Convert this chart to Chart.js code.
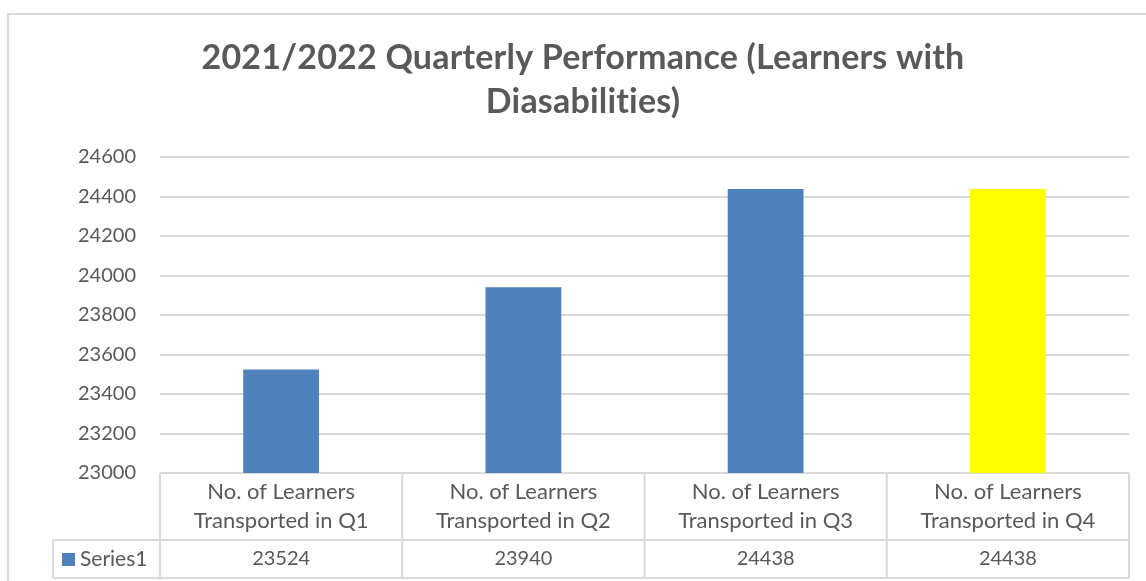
<!DOCTYPE html>
<html>
<head>
<meta charset="utf-8">
<script src="https://cdn.jsdelivr.net/npm/chart.js@4.4.1/dist/chart.umd.min.js"></script>
<style>
  html, body { margin: 0; padding: 0; background: #fff; }
  #wrap { position: relative; width: 1146px; height: 581px; }
</style>
</head>
<body>
<div id="wrap"><canvas id="chart" width="1146" height="581"></canvas></div>
<script>
// Excel-style column chart with a data table underneath
const titleLines = ["2021/2022 Quarterly Performance (Learners with", "Diasabilities)"]
const quarters = [
  ["No. of Learners", "Transported in Q1"],
  ["No. of Learners", "Transported in Q2"],
  ["No. of Learners", "Transported in Q3"],
  ["No. of Learners", "Transported in Q4"]
]
const seriesName = "Series1"
const learners = [23524, 23940, 24438, 24438]
const yMin = 23000
const yMax = 24600
const yStep = 200

const BLUE = "#4F81BD"
const barColors = [BLUE, BLUE, BLUE, "#FFFF00"]
const TEXT = "#595959"
const LINE = "#d9d9d9"
const FONT = "Lato, 'Open Sans', sans-serif"

// title, outer frame and the data table are drawn by hand
const tablePlugin = {
  id: "dataTable",
  beforeDraw(chart) {
    const ctx = chart.ctx
    ctx.save()
    ctx.strokeStyle = LINE
    ctx.lineWidth = 2
    ctx.beginPath()
    ctx.moveTo(8, 581)
    ctx.lineTo(8, 14)
    ctx.lineTo(1146, 14)
    ctx.stroke()

    ctx.fillStyle = TEXT
    ctx.font = "bold 34px " + FONT
    ctx.letterSpacing = "0.2px" // keeps Lato from joining "ti"
    ctx.textAlign = "center"
    ctx.textBaseline = "middle"
    titleLines.forEach((t, i) => ctx.fillText(t, 583, 58 + i * 44))
    ctx.restore()
  },
  afterDraw(chart) {
    const ctx = chart.ctx
    const area = chart.chartArea
    const x = chart.scales.x
    const catW = (area.right - area.left) / quarters.length
    const headBottom = 540
    const tableBottom = 578
    const legendLeft = 53

    ctx.save()
    ctx.strokeStyle = LINE
    ctx.lineWidth = 2
    ctx.beginPath()
    for (let i = 0; i <= quarters.length; i++) {
      const xx = area.left + i * catW
      ctx.moveTo(xx, area.bottom)
      ctx.lineTo(xx, tableBottom)
    }
    ctx.moveTo(legendLeft, headBottom)
    ctx.lineTo(legendLeft, tableBottom)
    ctx.moveTo(legendLeft, headBottom)
    ctx.lineTo(area.right, headBottom)
    ctx.moveTo(legendLeft, tableBottom)
    ctx.lineTo(area.right, tableBottom)
    ctx.stroke()

    ctx.fillStyle = TEXT
    ctx.font = "22px " + FONT
    ctx.textAlign = "center"
    ctx.textBaseline = "middle"
    quarters.forEach((lines, i) => {
      const cx = x.getPixelForValue(i)
      lines.forEach((l, j) => ctx.fillText(l, cx, 492 + j * 29))
    })
    ctx.font = "20px " + FONT
    learners.forEach((v, i) => ctx.fillText(String(v), x.getPixelForValue(i), 559))

    ctx.fillStyle = BLUE
    ctx.fillRect(62, 553, 13, 13)
    ctx.fillStyle = TEXT
    ctx.textAlign = "left"
    ctx.font = "21px " + FONT
    ctx.fillText(seriesName, 80, 559)
    ctx.restore()
  }
}

new Chart(document.getElementById("chart"), {
  type: "bar",
  data: {
    labels: quarters,
    datasets: [{
      label: seriesName,
      data: learners,
      backgroundColor: barColors,
      borderWidth: 0,
      categoryPercentage: 1,
      barPercentage: 0.313
    }]
  },
  options: {
    responsive: false,
    animation: false,
    layout: { padding: { top: 157, right: 17, bottom: 108, left: 0 } },
    plugins: { legend: { display: false }, tooltip: { enabled: false } },
    scales: {
      x: { display: false },
      y: {
        min: yMin,
        max: yMax,
        afterFit: (scale) => { scale.width = 160 },
        border: { display: false },
        grid: { color: LINE, lineWidth: 2, drawTicks: false },
        ticks: {
          stepSize: yStep,
          padding: 24,
          color: TEXT,
          font: { family: FONT, size: 20 },
          callback: (v) => String(v)
        }
      }
    }
  },
  plugins: [tablePlugin]
})
</script>
</body>
</html>
